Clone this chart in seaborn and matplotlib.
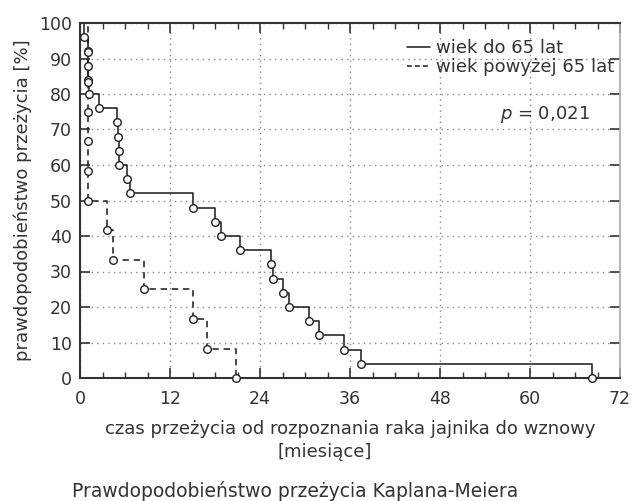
import numpy as np
import pandas as pd
import matplotlib
matplotlib.use('Agg')
import matplotlib.pyplot as plt
import seaborn as sns
from matplotlib.ticker import MultipleLocator
from matplotlib.lines import Line2D

# ---- data ----
young_t = [0.5, 1.0, 1.0, 1.0, 1.2, 2.5, 4.9, 5.0, 5.2, 5.2, 6.3, 6.7,
           15.1, 18.0, 18.8, 21.3, 25.5, 25.7, 27.1, 27.9, 30.5, 31.9, 35.2, 37.4, 68.3]
young_s = [96, 92, 88, 84, 80, 76, 72, 68, 64, 60, 56, 52,
           48, 44, 40, 36, 32, 28, 24, 20, 16, 12, 8, 4, 0]
old_t = [1.0, 1.0, 1.0, 1.0, 1.0, 1.0, 3.6, 4.4, 8.5, 15.1, 16.9, 20.8]
old_s = [91.7, 83.3, 75.0, 66.7, 58.3, 50.0, 41.7, 33.3, 25.0, 16.7, 8.3, 0.0]

labels = ['wiek do 65 lat', 'wiek powyżej 65 lat']
x_ticks = [0, 12, 24, 36, 48, 60, 72]
y_ticks = [0, 10, 20, 30, 40, 50, 60, 70, 80, 90, 100]

sns.set_theme(style='white')
plt.rcParams['font.family'] = ['DejaVu Sans']

ink = '#222222'
txt = '#333333'
fig = plt.figure(figsize=(6.37, 5.01), dpi=100)
ax = fig.add_axes([80/637, 1-378/501, 540/637, 355/501])

df_y = pd.DataFrame({'t': [0] + young_t, 's': [100] + young_s})
df_o = pd.DataFrame({'t': [0] + old_t, 's': [100] + old_s})

sns.lineplot(data=df_y, x='t', y='s', estimator=None, sort=False,
             drawstyle='steps-post', color=ink, lw=1.15, ax=ax)
sns.lineplot(data=df_o, x='t', y='s', estimator=None, sort=False,
             drawstyle='steps-post', color=ink, lw=1.15, ax=ax,
             dashes=False, linestyle=(0, (4, 3)))
sns.scatterplot(x=young_t, y=young_s, marker='o', s=30, facecolor='white',
                edgecolor=ink, linewidth=1.0, zorder=3, ax=ax, clip_on=False)
sns.scatterplot(x=old_t, y=old_s, marker='o', s=30, facecolor='white',
                edgecolor=ink, linewidth=1.0, zorder=3, ax=ax, clip_on=False)

ax.set_xlim(0, 72)
ax.set_ylim(0, 100)
ax.set_xticks(x_ticks)
ax.set_yticks(y_ticks)
ax.xaxis.set_minor_locator(MultipleLocator(3))
ax.grid(True, which='major', ls=(0, (1, 3)), color='#888888', lw=1.0)
ax.tick_params(axis='both', which='major', direction='in', length=7, width=1.2,
               top=True, right=True, bottom=True, left=True,
               labelsize=12.5, labelcolor=txt, color='#333333')
ax.tick_params(axis='x', which='major', pad=9)
ax.tick_params(axis='y', which='major', pad=6)
ax.tick_params(axis='x', which='minor', direction='in', length=4, width=1.0,
               top=True, bottom=True, color='#333333')

for side in ['left', 'bottom', 'top']:
    ax.spines[side].set_color('#333333')
    ax.spines[side].set_linewidth(1.5)
ax.spines['right'].set_color('#aaaaaa')
ax.spines['right'].set_linewidth(1.2)
ax.spines['right'].set_linestyle((0, (1, 1)))

ax.set_xlabel('czas przeżycia od rozpoznania raka jajnika do wznowy',
              fontsize=13, color=txt, labelpad=8)
fig.text(325/637, 1-452/501, '[miesiące]', ha='center', va='center',
         fontsize=13, color=txt)
ax.set_ylabel('prawdopodobieństwo przeżycia [%]', fontsize=13, color=txt)
ax.yaxis.set_label_coords(-0.089, 0.5)

handles = [Line2D([], [], color=ink, lw=1.15),
           Line2D([], [], color=ink, lw=1.15, ls=(0, (3, 2)))]
ax.legend(handles=handles, labels=labels, loc='upper right',
          bbox_to_anchor=(0.99, 0.955), frameon=False,
          handlelength=1.3, handletextpad=0.35, fontsize=13,
          borderpad=0, borderaxespad=0, labelspacing=0.05, labelcolor=txt)

ax.text(0.944, 0.743, r'$p$ = 0,021', ha='right', va='center',
        transform=ax.transAxes, fontsize=13, color=txt)

fig.text(295/637, 1-491/501, 'Prawdopodobieństwo przeżycia Kaplana-Meiera',
         ha='center', va='center', fontsize=13.5, color=txt)

fig.savefig('out.png', dpi=100)
